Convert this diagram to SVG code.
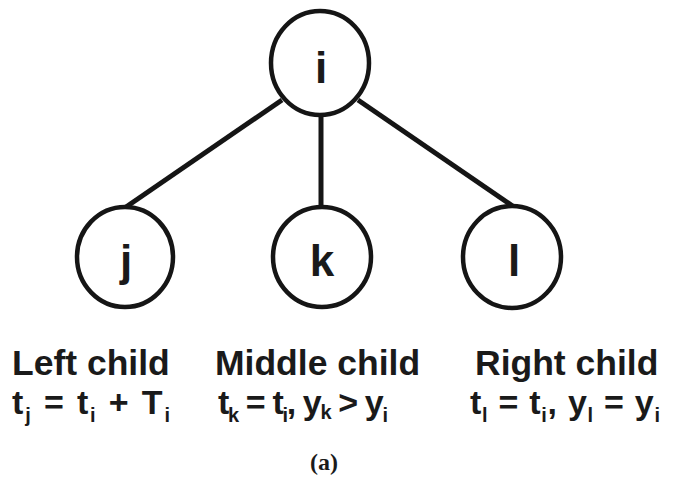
<svg xmlns="http://www.w3.org/2000/svg" width="691" height="481" viewBox="0 0 691 481">
<style>
.node{fill:#fff;stroke:#151515;stroke-width:4.5}
.lbl{font-family:"Liberation Sans",Arial,sans-serif;font-weight:bold;font-size:44px;fill:#1a1a1a;text-anchor:middle}
.cap{font-family:"Liberation Sans",Arial,sans-serif;font-weight:bold;font-size:35.5px;fill:#1a1a1a}
.f{font-family:"Liberation Sans",Arial,sans-serif;font-weight:bold;font-size:34px;fill:#1a1a1a}
.s{font-size:20px}
.edge{stroke:#151515;stroke-width:5;fill:none}
</style>
<rect width="691" height="481" fill="#fff"/>
<g id="connectors">
<line class="edge" x1="282" y1="100" x2="126" y2="207"/>
<line class="edge" x1="321" y1="115" x2="321" y2="207"/>
<line class="edge" x1="358" y1="100" x2="514" y2="207"/>
</g>
<g id="node-i"><ellipse class="node" cx="320" cy="63" rx="49" ry="52"/><text class="lbl" x="321" y="83">i</text></g>
<g id="node-j"><ellipse class="node" cx="125" cy="257" rx="48" ry="50"/><text class="lbl" x="126" y="276">j</text></g>
<g id="node-k"><ellipse class="node" cx="322" cy="257" rx="49" ry="50"/><text class="lbl" x="322" y="276">k</text></g>
<g id="node-l"><ellipse class="node" cx="512" cy="257" rx="49" ry="51"/><text class="lbl" x="514" y="276">l</text></g>
<g id="captions">
<text class="cap" x="12" y="375">Left child</text>
<text class="cap" x="215" y="375">Middle child</text>
<text class="cap" x="475" y="375">Right child</text>
</g>
<g id="formulas">
<text class="f" x="12" y="414" textLength="158" lengthAdjust="spacing">t<tspan class="s" dy="8">j</tspan><tspan dy="-8"> = t</tspan><tspan class="s" dy="8">i</tspan><tspan dy="-8"> + T</tspan><tspan class="s" dy="8">i</tspan></text>
<text class="f" x="218" y="414" textLength="170" lengthAdjust="spacing">t<tspan class="s" dy="8">k</tspan><tspan dy="-8"> = t</tspan><tspan class="s" dy="8">i</tspan><tspan dy="-8">, y</tspan><tspan class="s" dy="5">k</tspan><tspan dy="-5"> &gt; y</tspan><tspan class="s" dy="8">i</tspan></text>
<text class="f" x="470" y="414" textLength="190" lengthAdjust="spacing">t<tspan class="s" dy="8">l</tspan><tspan dy="-8"> = t</tspan><tspan class="s" dy="8">i</tspan><tspan dy="-8">, y</tspan><tspan class="s" dy="8">l</tspan><tspan dy="-8"> = y</tspan><tspan class="s" dy="8">i</tspan></text>
</g>
<text x="324" y="470" font-family="'Liberation Serif','Times New Roman',serif" font-weight="bold" font-size="24" fill="#1a1a1a" text-anchor="middle">(a)</text>
</svg>
